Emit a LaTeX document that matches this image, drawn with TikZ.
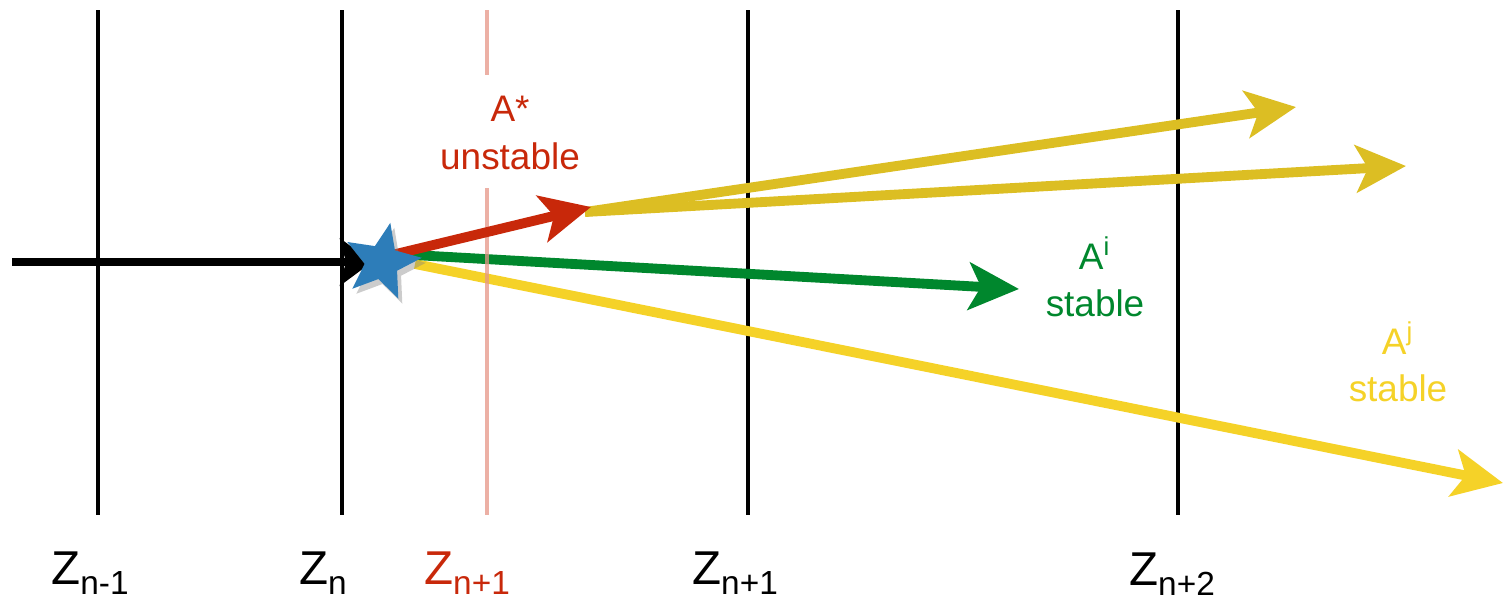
\documentclass[tikz,border=0pt]{standalone}
\usepackage{fontspec}
\setmainfont{Liberation Sans}
\usetikzlibrary{positioning, calc, shapes.geometric, arrows.meta, shadows}

\definecolor{zsalmon}{RGB}{230,150,135}
\definecolor{zred}{RGB}{200,40,10}
\definecolor{zgreen}{RGB}{0,135,45}
\definecolor{zgold}{RGB}{220,190,35}
\definecolor{zyellow}{RGB}{245,210,40}
\definecolor{zblue}{RGB}{45,125,185}

\newcommand{\zlab}[1]{Z\raisebox{-0.4ex}{\fontsize{9.5}{10}\selectfont #1}}

\begin{document}
\begin{tikzpicture}[x=0.01cm,y=-0.01cm,
    plane/.style={line width=1.2pt},
    track/.style={line width=2.8pt,-{Stealth[length=0.5cm,width=0.47cm,inset=0.12cm]}},
    lab/.style={align=center,font=\fontsize{10.5}{13.4}\selectfont},
    zname/.style={anchor=base,font=\fontsize{13.5}{15}\selectfont}]
  \useasboundingbox (0,0) rectangle (1504,597);
  % detector planes
  \draw[plane] (98,10) -- (98,515);
  \draw[plane] (342,10) -- (342,515);
  \draw[plane] (748,10) -- (748,515);
  \draw[plane] (1178,10) -- (1178,515);
  % incoming track
  \coordinate (in) at (12,262);
  \coordinate (hit) at (372,262);
  \draw[line width=2.3pt,-{Stealth[length=0.32cm,width=0.47cm,inset=0.06cm]}] (in) -- (hit);
  % points of the tracks
  \coordinate (vtx) at (396,254);
  \coordinate (redtip) at (591,207);
  \coordinate (fork) at (585,212);
  \coordinate (upper) at (1296,107);
  \coordinate (middle) at (1406,166);
  \coordinate (greentip) at (1019,289);
  \coordinate (lowstart) at (415,264);
  \coordinate (lowtip) at (1503,483);
  \draw[track,zyellow] (lowstart) -- (lowtip);
  \draw[track,zgreen] (vtx) -- (greentip);
  % intermediate plane
  \draw[plane,zsalmon,opacity=0.75] (487,10) -- (487,75);
  \draw[plane,zsalmon,opacity=0.75] (487,188) -- (487,515);
  \draw[track,zgold] (fork) -- (upper);
  \draw[track,zgold] (fork) -- (middle);
  \draw[track,zred] (vtx) -- (redtip);
  \node[star,star points=5,star point ratio=2.3,minimum size=0.8cm,inner sep=0pt,
        fill=zblue,rotate=-12,drop shadow={opacity=0.4,shadow xshift=0.04cm,shadow yshift=-0.05cm}]
        (decay) at (382,262) {};
  % labels
  \node[lab,text=zred] (astar) at (510,133) {A*\\unstable};
  \node[lab,text=zgreen] (ai) at (1095,277) {A\textsuperscript{i}\\stable};
  \node[lab,text=zyellow] (aj) at (1398,362) {A\textsuperscript{j}\\stable};
  \node[zname] (zm1) at (90,584) {\zlab{n-1}};
  \node[zname] (z0) at (323,584) {\zlab{n}};
  \node[zname,text=zred] (zp1r) at (467,584) {\zlab{n+1}};
  \node[zname] (zp1) at (735,584) {\zlab{n+1}};
  \node[zname] (zp2) at (1172,585) {\zlab{n+2}};
\end{tikzpicture}
\end{document}
